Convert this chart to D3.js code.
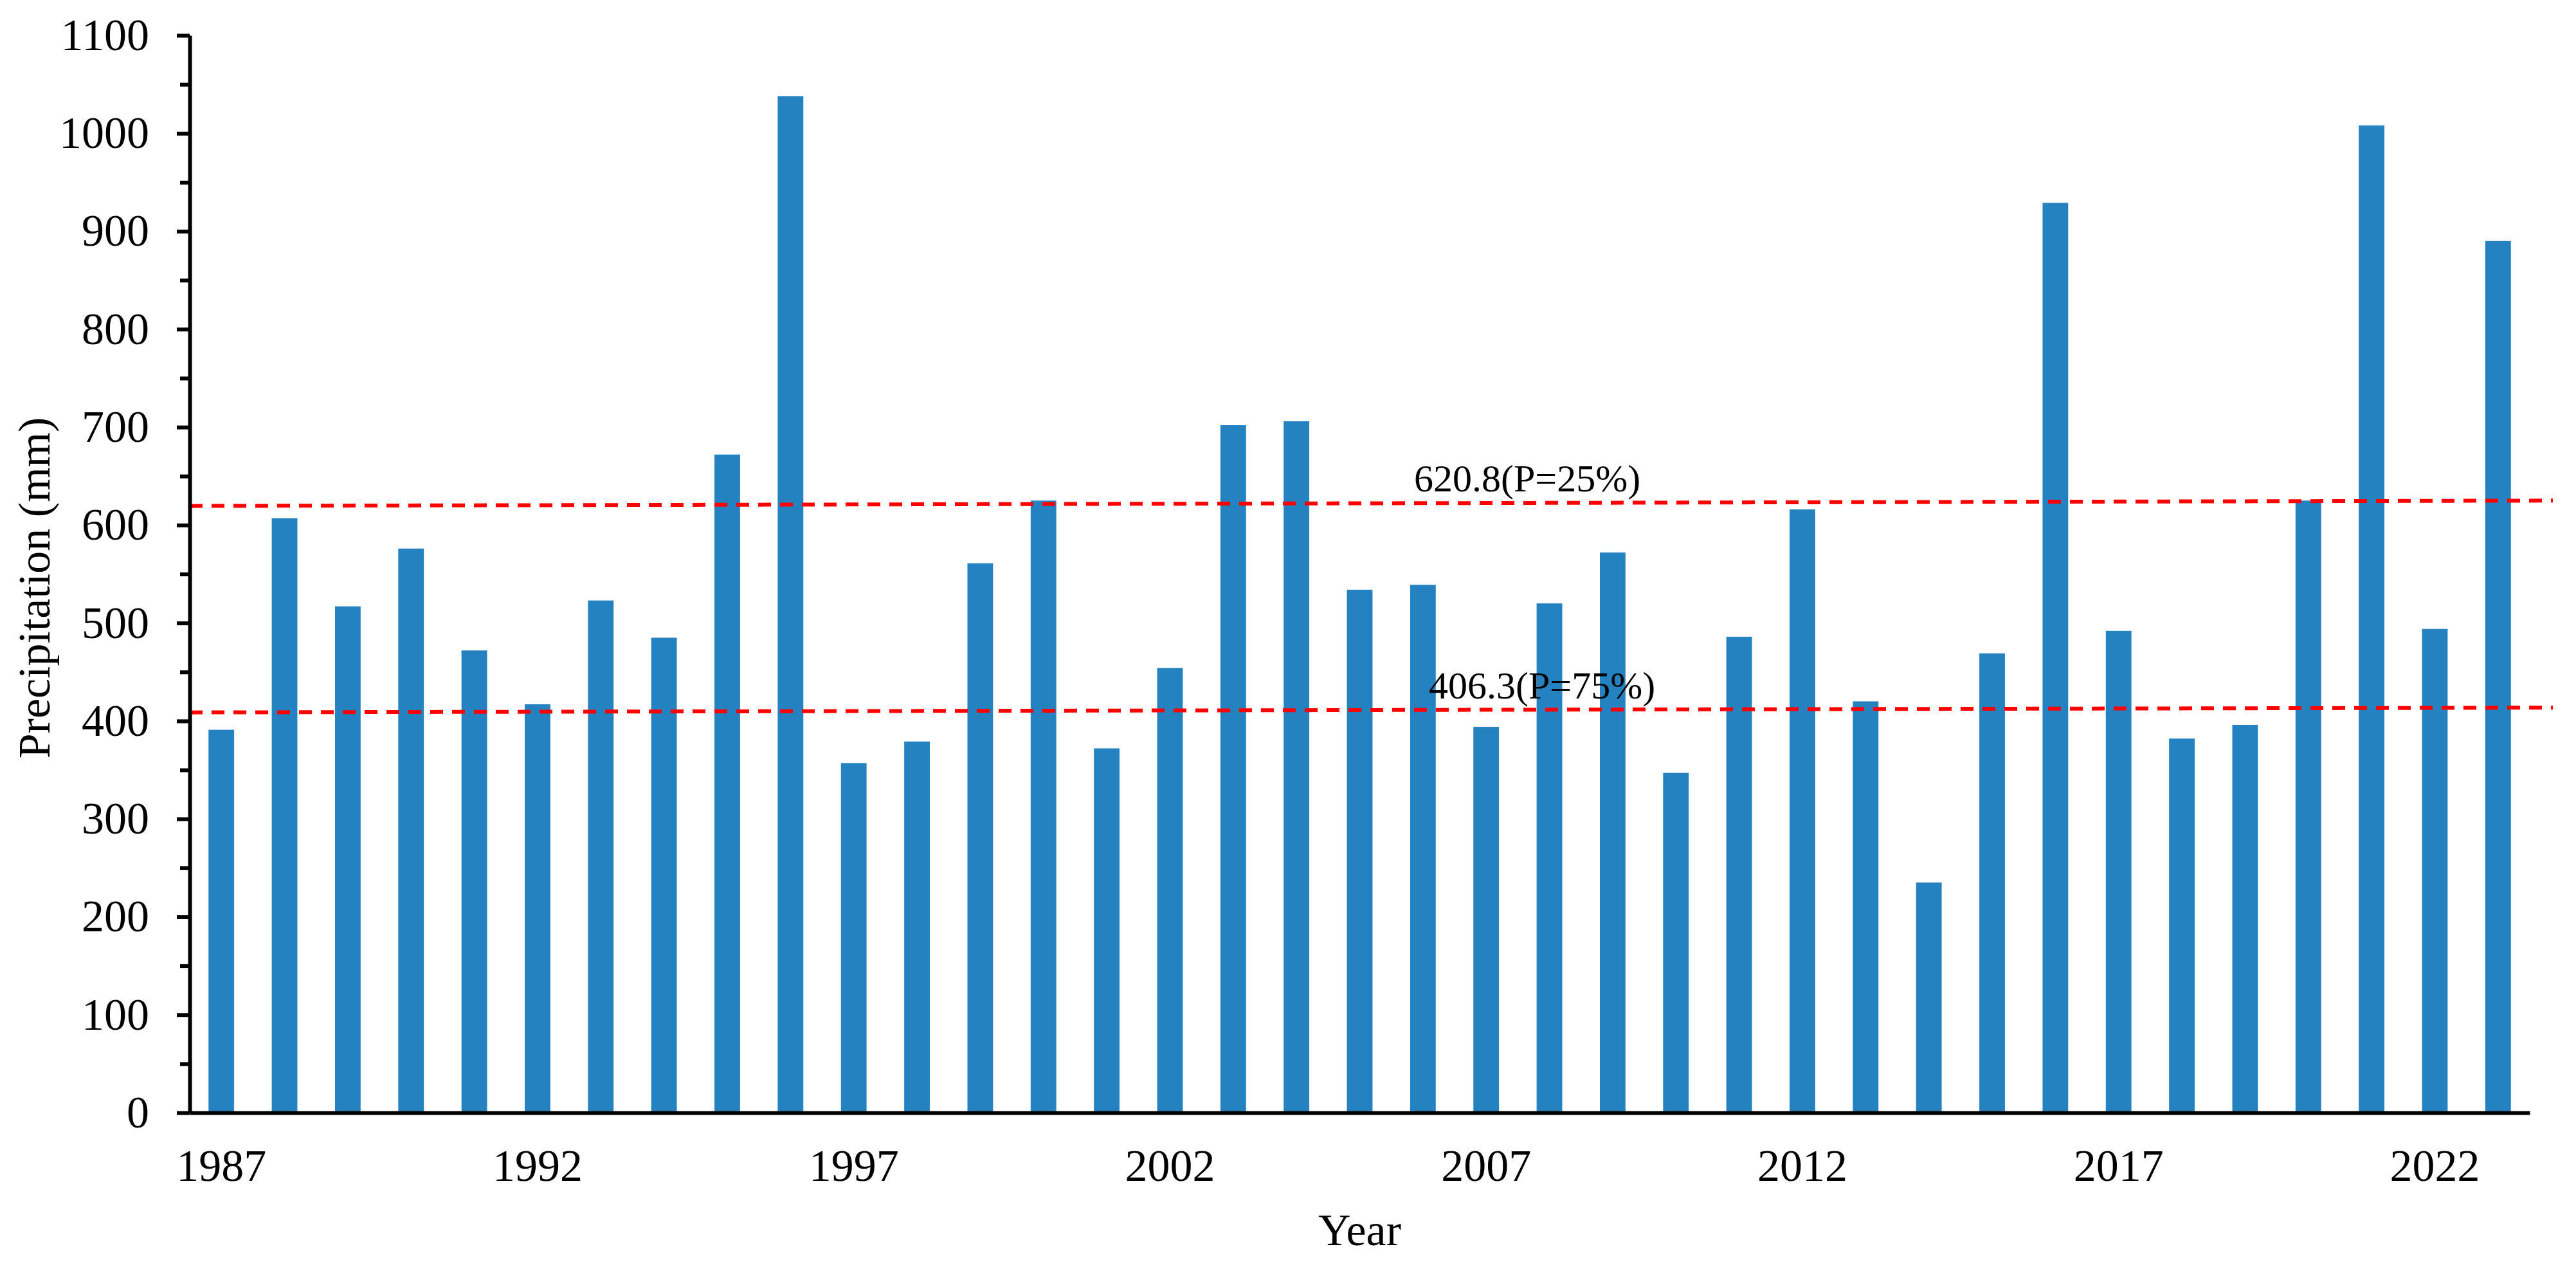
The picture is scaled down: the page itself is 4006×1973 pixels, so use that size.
<!DOCTYPE html>
<html>
<head>
<meta charset="utf-8">
<script src="https://cdn.jsdelivr.net/npm/d3@7/dist/d3.min.js"></script>
<style>
	body{margin:0;background:#fff;}
	text{font-family:"Liberation Serif","Times New Roman",serif;fill:#000;}
</style>
</head>
<body>
<div id="container"></div>
<script>
// data
let years = [1987,1988,1989,1990,1991,1992,1993,1994,1995,1996,
	1997,1998,1999,2000,2001,2002,2003,2004,2005,2006,
	2007,2008,2009,2010,2011,2012,2013,2014,2015,2016,
	2017,2018,2019,2020,2021,2022,2023];
let precipitation = [391,607,517,576,472,417,523,485,672,1038,
	357,379,561,625,372,454,702,706,534,539,
	394,520,572,347,486,616,420,235,469,929,
	492,382,396,625,1008,494,890];
let yTicks = [0,100,200,300,400,500,600,700,800,900,1000,1100];
let yMinorTicks = [50,150,250,350,450,550,650,750,850,950,1050];
let xLabelYears = [1987,1992,1997,2002,2007,2012,2017,2022];
// the two frequency lines are drawn slightly tilted in the original
let refLabels = ["620.8(P=25%)","406.3(P=75%)"];
let refStart = [619.5,408.7];
let refEnd = [625.0,413.6];

let barColor = "#2582c0";
let margin = {top: 55, right: 72, bottom: 243, left: 295},
	width = 4006 - margin.left - margin.right,
	height = 1973 - margin.top - margin.bottom;

let svg = d3.select("div#container").append("svg")
	.attr("width", width + margin.left + margin.right)
	.attr("height", height + margin.top + margin.bottom)
	.append("g")
	.attr("transform", "translate(" + margin.left + "," + margin.top + ")");

let xScale = d3.scaleBand().domain(years).range([0, width]).paddingInner(0.595).paddingOuter(0.2975);
let yScale = d3.scaleLinear().domain([0, 1100]).range([height, 0]);

// bars
svg.selectAll("rect.bar")
	.data(years)
	.enter().append("rect")
	.attr("class","bar")
	.attr("fill", barColor)
	.attr("x", (d) => xScale(d))
	.attr("width", xScale.bandwidth())
	.attr("y", (d,i) => yScale(precipitation[i]))
	.attr("height", (d,i) => height - yScale(precipitation[i]));

// dashed reference lines
let lineEnd = width + 36;
refLabels.forEach(function(label, i){
	svg.append("line")
		.attr("x1", 0)
		.attr("y1", yScale(refStart[i]))
		.attr("x2", lineEnd)
		.attr("y2", yScale(refEnd[i]))
		.attr("stroke", "#ff0000")
		.attr("stroke-width", 6)
		.attr("stroke-dasharray", "20,14");
});
let labelX = [1904, 1927];
refLabels.forEach(function(label, i){
	let t = labelX[i] / lineEnd;
	let v = refStart[i] + (refEnd[i] - refStart[i]) * t;
	svg.append("text")
		.attr("x", labelX[i])
		.attr("y", yScale(v) - 18)
		.style("font-size", "60px")
		.text(label);
});

// x axis
let xAxis = svg.append("g")
	.attr("transform", "translate(0," + height + ")")
	.call(d3.axisBottom(xScale).tickValues(xLabelYears).tickSize(0).tickSizeOuter(0).tickPadding(56));
xAxis.select(".domain").attr("stroke","#000").attr("stroke-width",6);
xAxis.selectAll("text").style("font-size","70px");

// y axis, major and minor ticks
let yAxis = svg.append("g")
	.call(d3.axisLeft(yScale).tickValues(yTicks).tickFormat(d3.format("d"))
		.tickSize(20).tickSizeOuter(0).tickPadding(43));
yAxis.select(".domain").attr("stroke","#000").attr("stroke-width",6);
yAxis.selectAll(".tick line").attr("stroke","#000").attr("stroke-width",6);
yAxis.selectAll("text").style("font-size","70px");

let yMinor = svg.append("g")
	.call(d3.axisLeft(yScale).tickValues(yMinorTicks).tickSize(15).tickFormat(""));
yMinor.select(".domain").remove();
yMinor.selectAll(".tick line").attr("stroke","#000").attr("stroke-width",6);

// axis titles
svg.append("text")
	.attr("transform", "translate(" + (77 - margin.left) + "," + (914 - margin.top) + ") rotate(-90)")
	.attr("text-anchor", "middle")
	.style("font-size", "70px")
	.text("Precipitation (mm)");

svg.append("text")
	.attr("x", width / 2)
	.attr("y", 1936 - margin.top)
	.attr("text-anchor", "middle")
	.style("font-size", "70px")
	.text("Year");
</script>
</body>
</html>
